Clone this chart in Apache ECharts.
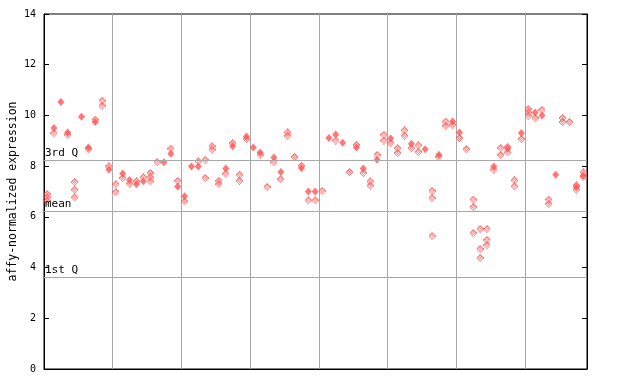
<!DOCTYPE html>
<html>
<head>
<meta charset="utf-8">
<script src="https://cdn.jsdelivr.net/npm/echarts@6/dist/echarts.min.js"></script>
<style>
html,body{margin:0;padding:0;background:#fff;}
#chart{width:640px;height:384px;}
</style>
</head>
<body>
<div id="chart"></div>
<script>
// ---- data ----
const yTicks = [0, 2, 4, 6, 8, 10, 12, 14];
const quantileNames = ['3rd Q', 'mean', '1st Q'];
const quantileValues = [8.24, 6.24, 3.63];
const nColumns = 79;
// solid (filled) markers, one list per sample column
const solidValues = [
  [], [9.50], [10.53], [9.33], [], [9.95], [8.74], [9.74], [], [7.87],
  [], [7.71], [7.45], [7.29], [7.40], [], [], [8.15], [8.49], [7.20],
  [6.81], [7.99], [7.99], [], [], [], [7.91], [8.78], [], [9.17],
  [8.74], [8.54], [], [8.34], [7.77], [], [], [7.93], [7.00], [7.00],
  [], [9.11], [9.25], [8.92], [], [8.74], [7.91], [], [8.25], [],
  [9.09], [], [], [8.88], [], [8.67], [], [8.45], [], [9.76],
  [9.33], [], [], [], [], [7.99], [], [8.69], [], [9.31],
  [], [10.12], [10.00], [], [7.66], [], [], [7.18], [7.62]
];
// hatched markers, one list per sample column
const hatchValues = [
  [6.90, 6.77, 6.63], [9.30], [], [9.24], [7.37, 7.07, 6.77], [], [8.68], [9.83], [10.58, 10.38], [7.99],
  [7.29, 6.98], [7.53], [7.31], [7.40], [7.56], [7.73, 7.56, 7.40], [8.16], [], [8.69], [7.42],
  [6.61], [], [8.19], [8.25, 7.53], [8.78, 8.65], [7.42, 7.29], [7.70], [8.91], [7.66, 7.42], [9.07],
  [], [8.45], [7.18], [8.15], [7.49], [9.33, 9.20], [8.36], [8.02], [6.65], [6.65],
  [7.02], [], [9.01], [], [7.77], [8.84], [7.73], [7.40, 7.23], [8.44], [9.24, 9.01],
  [8.91], [8.71, 8.52], [9.41, 9.20], [8.71], [8.82, 8.56], [], [7.02, 6.74, 5.24], [8.36], [9.76, 9.59], [9.63],
  [9.11], [8.67], [6.68, 6.39, 5.36], [5.52, 4.73, 4.38], [5.52, 5.09, 4.89], [7.86], [8.71, 8.44], [8.75, 8.54], [7.44, 7.20], [9.07],
  [10.25, 10.12, 9.99], [9.90], [10.22], [6.68, 6.51], [], [9.90, 9.74], [9.75], [7.24, 7.07], [7.75, 7.57]
];

// ---- build ----
function toPoints(lists) {
  const pts = [];
  lists.forEach((vals, i) => vals.forEach(v => pts.push([i + 0.45, v])));
  return pts;
}
function checkerDiamond(w, h, color) {
  const c = document.createElement('canvas');
  c.width = w; c.height = h;
  const g = c.getContext('2d');
  g.fillStyle = color;
  const cx = (w - 1) / 2, cy = (h - 1) / 2;
  for (let y = 0; y < h; y++) {
    for (let x = 0; x < w; x++) {
      const d = Math.abs(x - cx) / ((w + 1) / 2) + Math.abs(y - cy) / ((h + 1) / 2);
      if (d <= 1.0) {
        const edge = d > 0.62;
        if (edge || (x + y) % 2 === 0) g.fillRect(x, y, 1, 1);
      }
    }
  }
  return c.toDataURL();
}
const RED = '#ff5555';
const MONO = 'DejaVu Sans Mono';
const hatchSymbol = 'image://' + checkerDiamond(7, 8, RED);

const chart = echarts.init(document.getElementById('chart'), null, {renderer: 'canvas'});
chart.setOption({
  animation: false,
  backgroundColor: '#fff',
  grid: {left: 44, right: 53, top: 14, bottom: 15, containLabel: false, outerBoundsMode: 'none',
         show: true, borderColor: '#000', borderWidth: 1, backgroundColor: 'transparent'},
  xAxis: {
    type: 'value', min: 0, max: nColumns, interval: 10,
    axisLine: {show: true, lineStyle: {color: '#000'}},
    axisTick: {show: false}, axisLabel: {show: false},
    splitLine: {show: true, lineStyle: {color: '#a8a8a8', width: 1}}
  },
  yAxis: [{
    type: 'value', min: yTicks[0], max: yTicks[yTicks.length - 1], interval: 2,
    name: 'affy-normalized expression', nameLocation: 'middle', nameGap: 25, nameMoveOverlap: false,
    nameTextStyle: {fontFamily: MONO, fontSize: 11.5, color: '#000'},
    axisLine: {show: true, lineStyle: {color: '#000'}},
    axisTick: {show: true, inside: true, length: 5, lineStyle: {color: '#000'}},
    axisLabel: {fontFamily: MONO, fontSize: 10, color: '#000', margin: 8},
    splitLine: {show: false}
  }, {
    type: 'value', min: yTicks[0], max: yTicks[yTicks.length - 1], interval: 2, position: 'right',
    axisLine: {show: true, lineStyle: {color: '#000'}},
    axisTick: {show: true, inside: true, length: 5, lineStyle: {color: '#000'}},
    axisLabel: {show: false}, splitLine: {show: false}
  }],
  series: [{
    type: 'scatter', name: 'hatched', z: 3,
    symbol: hatchSymbol, symbolSize: [7, 8],
    data: toPoints(hatchValues),
    markLine: {
      silent: true, symbol: 'none', animation: false,
      lineStyle: {color: '#a8a8a8', type: 'solid', width: 1},
      label: {show: true, position: 'insideStartTop', distance: [1, 1], color: '#000', fontFamily: MONO, fontSize: 11, formatter: p => p.name},
      data: quantileNames.map((n, i) => ({name: n, yAxis: quantileValues[i]}))
    }
  }, {
    type: 'scatter', name: 'solid', z: 4,
    symbol: 'diamond', symbolSize: [7, 8],
    itemStyle: {color: RED},
    data: toPoints(solidValues)
  }]
});
</script>
</body>
</html>
